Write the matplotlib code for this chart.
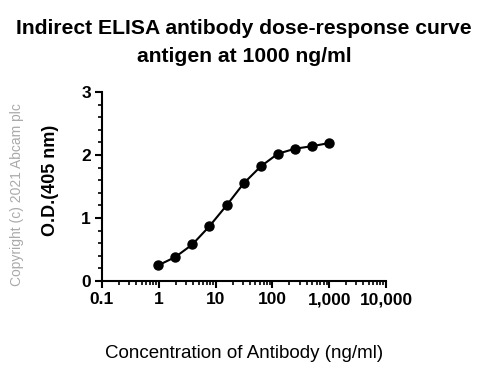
import matplotlib
matplotlib.use("Agg")
import matplotlib.pyplot as plt
from matplotlib.ticker import LogLocator, FuncFormatter, MultipleLocator

plt.rcParams['font.family'] = ['Liberation Sans', 'DejaVu Sans']

# --- DATA ---
concentration = [0.98, 1.95, 3.9, 7.8, 15.6, 31.25, 62.5, 125, 250, 500, 1000]
od405 = [0.25, 0.38, 0.58, 0.87, 1.20, 1.55, 1.82, 2.02, 2.10, 2.14, 2.19]
x_ticks = [0.1, 1, 10, 100, 1000, 10000]
y_ticks = [0, 1, 2, 3]

W, H = 488, 379
fig = plt.figure(figsize=(W / 100, H / 100), dpi=100)
ax = fig.add_axes([102 / W, (H - 281) / H, (386 - 102) / W, (281 - 92) / H])

ax.plot(concentration, od405, color='black', linewidth=1.5, marker='o',
        markersize=6.5, clip_on=False, zorder=3)

ax.set_xscale('log')
ax.set_xlim(0.1, 10000)
ax.set_ylim(0, 3)
ax.set_xticks(x_ticks)
ax.xaxis.set_major_formatter(FuncFormatter(lambda v, p: f"{v:,.0f}" if v >= 1 else f"{v:g}"))
ax.xaxis.set_minor_locator(LogLocator(base=10, subs=range(2, 10), numticks=20))
ax.set_yticks(y_ticks)
ax.yaxis.set_minor_locator(MultipleLocator(0.2))

for s in ['top', 'right']:
    ax.spines[s].set_visible(False)
for s in ['left', 'bottom']:
    ax.spines[s].set_linewidth(1.5)

ax.tick_params(which='major', length=5, width=1.5, labelsize=12.5, pad=3)
ax.tick_params(which='minor', length=3, width=1.2)
for lbl in ax.get_xticklabels() + ax.get_yticklabels():
    lbl.set_fontweight('bold')

ax.set_ylabel('O.D.(405 nm)', fontsize=13, fontweight='bold')
ax.yaxis.set_label_coords((59 - 102) / (386 - 102), (281 - 180) / (281 - 92))
fig.text(0.5, (H - 354) / H, 'Concentration of Antibody (ng/ml)', ha='center',
         va='center', fontsize=13.5)
fig.text(0.5, (H - 29) / H, 'Indirect ELISA antibody dose-response curve',
         ha='center', va='center', fontsize=15.2, fontweight='bold')
fig.text(0.5, (H - 56) / H, 'antigen at 1000 ng/ml',
         ha='center', va='center', fontsize=15.2, fontweight='bold')
fig.text(17 / W, (H - 195) / H, 'Copyright (c) 2021 Abcam plc', rotation=90,
         ha='center', va='center', fontsize=10, color='#aaaaaa')

fig.savefig('out.png', dpi=100)
